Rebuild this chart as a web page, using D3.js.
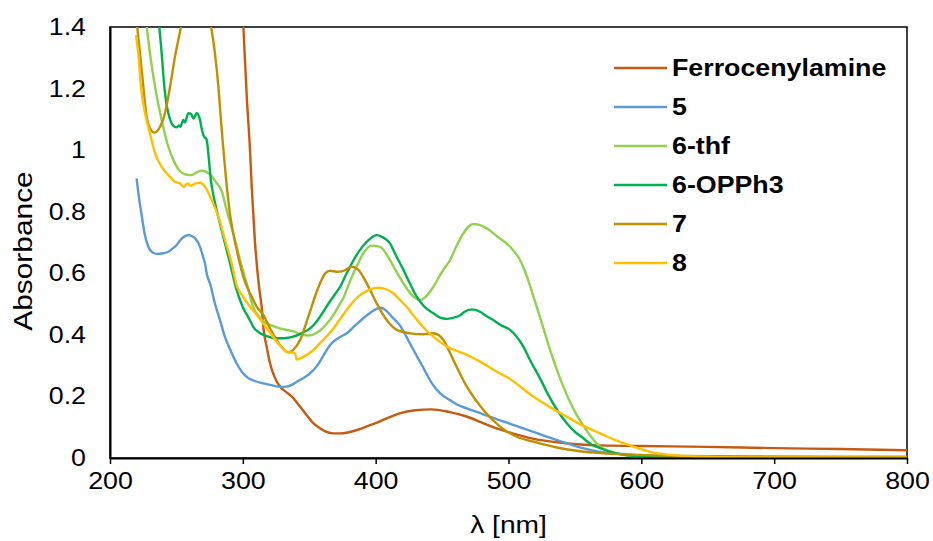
<!DOCTYPE html>
<html>
<head>
<meta charset="utf-8">
<script src="https://cdn.jsdelivr.net/npm/d3@7"></script>
<style>
    body { margin: 0; background: #fff; }
    text { font-family: "Liberation Sans", Arial, sans-serif; fill: #000; }
</style>
</head>
<body>
<svg id="chart"></svg>
<script>
// spectra, [wavelength nm, absorbance]
const ferrocenylamine = [[296, 1.75], [300.4, 1.40], [303, 1.17], [305.4, 1.0], [306.7, 0.88], [309, 0.71],
    [310.9, 0.61], [312.5, 0.545], [314.2, 0.49], [315.4, 0.426], [318, 0.36], [320.5, 0.307], [324, 0.262],
    [328, 0.232], [333, 0.213], [337, 0.199], [343, 0.167], [348, 0.14], [353, 0.113], [358, 0.097],
    [363, 0.085], [368, 0.080], [373, 0.080], [379, 0.083], [386, 0.091], [393, 0.102], [401, 0.115],
    [409, 0.13], [418, 0.145], [430, 0.155], [442, 0.158], [455, 0.150], [469, 0.134], [481, 0.113],
    [494, 0.092], [507, 0.075], [519, 0.062], [535, 0.052], [554, 0.044], [570, 0.041], [600, 0.039],
    [650, 0.036], [700, 0.032], [750, 0.029], [800, 0.025]]

const comp5 = [[220, 0.908], [222, 0.84], [224, 0.784], [226, 0.73], [228.8, 0.686], [232, 0.668], [235.2, 0.663],
    [240, 0.665], [243.9, 0.67], [247, 0.68], [250.2, 0.692], [253, 0.708], [255.2, 0.717], [259, 0.724],
    [262, 0.72], [264, 0.714], [267.8, 0.686], [270, 0.655], [271.5, 0.632], [273, 0.595], [275.3, 0.567],
    [279, 0.502], [282.8, 0.448], [286, 0.40], [290.4, 0.353], [295, 0.31], [299.2, 0.28], [304, 0.26],
    [307.9, 0.252], [313, 0.245], [318, 0.24], [323, 0.235], [328, 0.231], [333, 0.232], [338, 0.240],
    [340.6, 0.248], [345, 0.258], [350.6, 0.275], [356, 0.30], [361, 0.335], [365.7, 0.367], [372, 0.39],
    [378.2, 0.405], [384, 0.428], [390.7, 0.454], [396, 0.472], [401, 0.485], [404, 0.488], [408.3, 0.477],
    [413, 0.455], [418.4, 0.430], [423, 0.395], [428.4, 0.351], [435, 0.30], [442, 0.245], [449, 0.208],
    [456, 0.188], [462, 0.172], [468.6, 0.161], [481, 0.142], [493.7, 0.122], [506, 0.104], [518.8, 0.085],
    [531, 0.066], [543.9, 0.048], [556, 0.032], [569, 0.02], [582, 0.014], [594, 0.01], [620, 0.005],
    [700, 0.002], [800, 0]]

const comp6thf = [[220, 1.68], [224, 1.53], [227.6, 1.403], [230.1, 1.314], [233.9, 1.206], [238.9, 1.098],
    [243.9, 1.011], [248.9, 0.957], [252, 0.935], [255.2, 0.924], [258, 0.92], [261.5, 0.919], [265, 0.928],
    [269, 0.933], [272, 0.93], [276.5, 0.916], [280, 0.895], [284, 0.868], [287.8, 0.805], [292.8, 0.73],
    [297.9, 0.643], [302.9, 0.567], [307.9, 0.49], [313, 0.455], [318, 0.437], [323, 0.428], [328, 0.421],
    [333, 0.416], [339.3, 0.410], [343, 0.402], [348.1, 0.398], [353, 0.401], [358.1, 0.414], [363, 0.435],
    [368.2, 0.465], [373, 0.50], [375.7, 0.52], [380.7, 0.575], [386, 0.625], [390.7, 0.665], [397, 0.690],
    [403.3, 0.686], [410.8, 0.643], [415, 0.61], [420.9, 0.567], [428.4, 0.524], [433.4, 0.513], [438, 0.525],
    [443.4, 0.556], [450, 0.605], [456, 0.643], [461, 0.69], [466.1, 0.73], [470, 0.752], [473.6, 0.760],
    [478, 0.757], [483.7, 0.746], [492, 0.718], [501.2, 0.686], [508.7, 0.643], [513, 0.60], [518.8, 0.524],
    [525, 0.44], [531.3, 0.351], [537, 0.28], [543.9, 0.205], [550, 0.15], [556.4, 0.105], [562, 0.07],
    [569, 0.037], [575, 0.024], [581.5, 0.015], [590, 0.007], [600, 0.003], [650, 0], [800, 0]]

const comp6opph3 = [[220, 2.0], [230, 1.68], [234, 1.52], [237.1, 1.403], [238.9, 1.314], [240.9, 1.206],
    [242.5, 1.15], [243.9, 1.12], [246.4, 1.087], [248, 1.078], [250.2, 1.074], [252, 1.08], [253, 1.076],
    [255.2, 1.098], [256.5, 1.09], [258, 1.11], [259, 1.12], [261, 1.118], [262.7, 1.103], [264, 1.11],
    [265.3, 1.121], [266.5, 1.115], [267.8, 1.098], [269, 1.07], [270.3, 1.049], [272.8, 1.033], [274, 0.99],
    [276, 0.90], [278, 0.85], [280.3, 0.805], [285.3, 0.719], [290.4, 0.632], [295, 0.55], [300, 0.49],
    [305, 0.45], [308, 0.425], [313, 0.405], [318, 0.396], [323, 0.39], [328, 0.389], [333, 0.39],
    [338, 0.394], [344, 0.405], [350.6, 0.421], [355, 0.44], [358.1, 0.459], [360.6, 0.475], [365, 0.505],
    [370.7, 0.54], [373.2, 0.556], [378.2, 0.60], [383, 0.64], [388.2, 0.676], [394, 0.705], [400.8, 0.724],
    [405, 0.718], [410.8, 0.697], [415, 0.66], [420.9, 0.611], [426, 0.565], [430.9, 0.524], [437, 0.49],
    [443.4, 0.47], [448, 0.457], [453.5, 0.452], [458, 0.455], [463.6, 0.464], [467, 0.475], [471.1, 0.482],
    [474, 0.482], [478.6, 0.475], [483, 0.462], [488.6, 0.448], [494, 0.432], [501.2, 0.416], [506, 0.395],
    [511.2, 0.362], [516, 0.32], [523.8, 0.258], [530, 0.205], [536, 0.16], [543.9, 0.113], [550, 0.085],
    [556.4, 0.064], [562, 0.045], [569, 0.032], [575, 0.022], [581.5, 0.015], [590, 0.009], [599, 0.005],
    [620, 0.001], [800, 0]]

const comp7 = [[220, 1.42], [222.6, 1.314], [225.1, 1.206], [227.6, 1.108], [230.1, 1.071], [233.4, 1.057],
    [237.7, 1.076], [241.4, 1.12], [245.2, 1.206], [248.9, 1.303], [253.5, 1.403], [258, 1.52], [262, 1.6],
    [266, 1.62], [270, 1.58], [273, 1.5], [276.1, 1.403], [279, 1.314], [281.6, 1.206], [283.5, 1.1],
    [285, 1.02], [287.5, 0.9], [290.4, 0.79], [295.4, 0.676], [301, 0.58], [306, 0.53], [310.5, 0.491],
    [315.4, 0.465], [320.5, 0.421], [328, 0.367], [334.3, 0.343], [338, 0.351], [343.1, 0.383],
    [349.3, 0.459], [355.6, 0.54], [360.6, 0.59], [362, 0.6], [365.7, 0.608], [370.7, 0.605], [375.7, 0.608],
    [382, 0.621], [387, 0.611], [393.3, 0.567], [400.8, 0.502], [408.3, 0.448], [415.9, 0.416], [426, 0.405],
    [436, 0.402], [443.4, 0.405], [451, 0.383], [458.5, 0.318], [468.6, 0.232], [481.1, 0.156],
    [493.7, 0.102], [506.2, 0.069], [518.8, 0.053], [536.4, 0.034], [554, 0.022], [569, 0.016], [599, 0.01],
    [650, 0.006], [800, 0.004]]

const comp8 = [[219.6, 1.374], [221.3, 1.314], [223.3, 1.206], [226.4, 1.12], [230.1, 1.054], [233.9, 0.99],
    [238.9, 0.946], [243.9, 0.919], [246.4, 0.908], [248.9, 0.897], [252.6, 0.892], [254, 0.886],
    [255.9, 0.881], [257.5, 0.89], [259, 0.892], [260.5, 0.884], [262.3, 0.887], [265, 0.893], [267.8, 0.894],
    [271.5, 0.881], [276.5, 0.838], [281.6, 0.784], [286.6, 0.708], [291.6, 0.632], [295.4, 0.56],
    [300, 0.525], [305.4, 0.491], [311.7, 0.459], [315.4, 0.437], [320, 0.41], [325.5, 0.378], [333, 0.345],
    [339.3, 0.34], [340.5, 0.32], [344, 0.325], [348.1, 0.335], [353, 0.35], [358.1, 0.373], [363, 0.395],
    [368.2, 0.421], [373, 0.45], [378.2, 0.481], [383, 0.507], [388.2, 0.529], [393, 0.542], [398.3, 0.551],
    [402, 0.553], [405.8, 0.551], [413.3, 0.535], [418.4, 0.513], [423.4, 0.491], [428, 0.465],
    [433.4, 0.437], [438, 0.415], [443.4, 0.394], [453.5, 0.362], [466.1, 0.34], [478.6, 0.313],
    [491.2, 0.28], [500, 0.26], [518.8, 0.199], [531, 0.166], [543.9, 0.134], [556, 0.105], [569, 0.08],
    [581, 0.057], [594, 0.037], [606.6, 0.02], [621.7, 0.01], [640, 0.005], [680, 0.002], [800, 0.001]]

const seriesNames = ['Ferrocenylamine', '5', '6-thf', '6-OPPh3', '7', '8']
const seriesData = [ferrocenylamine, comp5, comp6thf, comp6opph3, comp7, comp8]
const colors = ['#C55A11', '#5B9BD5', '#92D050', '#00B050', '#BF9000', '#FFC000']

const xTicks = [200, 300, 400, 500, 600, 700, 800]
const yTicks = [0, 0.2, 0.4, 0.6, 0.8, 1, 1.2, 1.4]
const yTickLabels = ['0', '0.2', '0.4', '0.6', '0.8', '1', '1.2', '1.4']

const svgWidth = 933
const svgHeight = 541
const margin = { top: 27, right: 26, bottom: 83, left: 110 }
const plotW = svgWidth - margin.left - margin.right
const plotH = svgHeight - margin.top - margin.bottom

// the original text is a bit wider than Liberation Sans, stretch it sideways
const fontSize = 23.3
const stretch = 1.15

const svg = d3.select('#chart')
    .attr('width', svgWidth)
    .attr('height', svgHeight)

const x = d3.scaleLinear().domain([200, 800]).range([margin.left, margin.left + plotW])
const y = d3.scaleLinear().domain([0, 1.4]).range([margin.top + plotH, margin.top])

svg.append('clipPath')
    .attr('id', 'plot-clip')
    .append('rect')
    .attr('x', margin.left)
    .attr('y', margin.top)
    .attr('width', plotW)
    .attr('height', plotH)

// plot area border
svg.append('rect')
    .attr('x', margin.left)
    .attr('y', margin.top)
    .attr('width', plotW)
    .attr('height', plotH)
    .attr('fill', 'none')
    .attr('stroke', '#000')
    .attr('stroke-width', 1.5)

const line = d3.line()
    .x(d => x(d[0]))
    .y(d => y(d[1]))
    .curve(d3.curveMonotoneX)

const lines = svg.append('g').attr('clip-path', 'url(#plot-clip)')
seriesData.forEach((data, i) => {
    lines.append('path')
        .datum(data)
        .attr('d', line)
        .attr('fill', 'none')
        .attr('stroke', colors[i])
        .attr('stroke-width', 2.4)
})

// x axis
const xAxis = svg.append('g')
    .attr('transform', `translate(0,${margin.top + plotH})`)
    .call(d3.axisBottom(x).tickValues(xTicks).tickSize(6).tickSizeOuter(0).tickPadding(8))
xAxis.select('.domain').attr('stroke', '#000').attr('stroke-width', 2)
xAxis.selectAll('.tick line').attr('stroke', '#000').attr('stroke-width', 1.5)
xAxis.selectAll('.tick text')
    .attr('font-size', fontSize + 'px')
    .attr('font-family', '"Liberation Sans", Arial, sans-serif')
    .attr('transform', `scale(${stretch},1)`)

// y axis, no tick marks
const yAxis = svg.append('g')
    .attr('transform', `translate(${margin.left},0)`)
    .call(d3.axisLeft(y).tickValues(yTicks).tickSize(0)
        .tickFormat((d, i) => yTickLabels[i]))
yAxis.select('.domain').attr('stroke', '#000').attr('stroke-width', 2)
yAxis.selectAll('.tick text')
    .attr('x', -24 / stretch)
    .attr('font-size', fontSize + 'px')
    .attr('font-family', '"Liberation Sans", Arial, sans-serif')
    .attr('transform', `scale(${stretch},1)`)

// axis titles
svg.append('text')
    .attr('transform', `translate(${margin.left + plotW / 2},533) scale(${stretch},1)`)
    .attr('text-anchor', 'middle')
    .attr('font-size', '24.5px')
    .text('λ [nm]')

svg.append('text')
    .attr('transform', `translate(32,251) rotate(-90) scale(${stretch},1)`)
    .attr('text-anchor', 'middle')
    .attr('font-size', '26px')
    .text('Absorbance')

// legend
const legend = svg.append('g').attr('transform', 'translate(614,68)')
seriesNames.forEach((name, i) => {
    const row = legend.append('g').attr('transform', `translate(0,${i * 39})`)
    row.append('line')
        .attr('x1', 0)
        .attr('x2', 53)
        .attr('stroke', colors[i])
        .attr('stroke-width', 2.4)
    row.append('text')
        .attr('transform', `translate(58,0) scale(${stretch},1)`)
        .attr('dy', '0.36em')
        .attr('font-size', fontSize + 'px')
        .attr('font-weight', 'bold')
        .text(name)
})
</script>
</body>
</html>
